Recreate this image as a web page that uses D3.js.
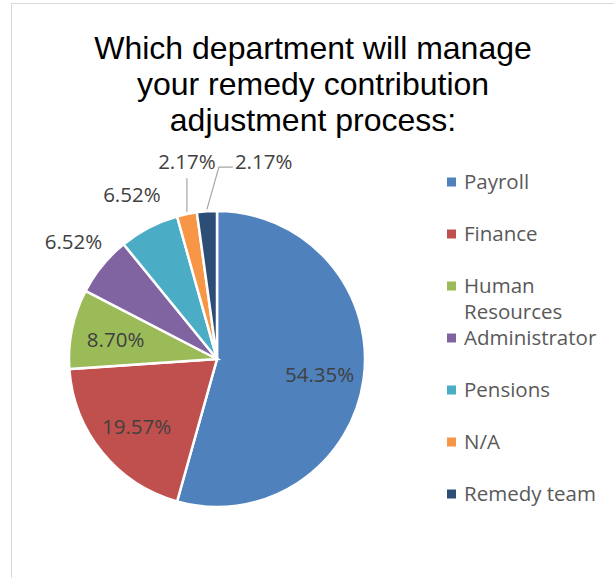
<!DOCTYPE html>
<html>
<head>
<meta charset="utf-8">
<title>Remedy contribution adjustment</title>
<script src="https://d3js.org/d3.v7.min.js"></script>
<style>
  body { margin: 0; background: #fff; }
  .title { font-family: "Liberation Sans", Arial, sans-serif; font-size: 32px; fill: #000; text-anchor: middle; }
  .lbl { font-family: "Open Sans", sans-serif; font-size: 20.5px; fill: #404040; }
  .legend text { font-family: "Open Sans", sans-serif; font-size: 20.5px; fill: #595959; }
</style>
</head>
<body>
<script>

var categories = ["Payroll", "Finance", "Human Resources", "Administrator", "Pensions", "N/A", "Remedy team"];
var counts = [25, 9, 4, 3, 3, 1, 1];
var percentLabels = ["54.35%", "19.57%", "8.70%", "6.52%", "6.52%", "2.17%", "2.17%"];
var colors = ["#4f81bd", "#c0504d", "#9bbb59", "#8064a2", "#4bacc6", "#f79646", "#2c4d75"];
var titleLines = ["Which department will manage", "your remedy contribution", "adjustment process:"];

var width = 614, height = 578,
    cx = 217, cy = 359, radius = 148;

var svg = d3.select("body").append("svg")
    .attr("width", width)
    .attr("height", height);

// chart frame (runs off the right and bottom edges)
svg.append("rect")
    .attr("x", 11.5).attr("y", 3.5)
    .attr("width", width + 20).attr("height", height + 20)
    .attr("fill", "none")
    .attr("stroke", "#d9d9d9");

svg.selectAll(".title")
    .data(titleLines)
  .enter().append("text")
    .attr("class", "title")
    .attr("x", 313)
    .attr("y", function(d, i) { return 59 + i * 36; })
    .text(function(d) { return d; });

var data = categories.map(function(c, i) {
  return { name: c, value: counts[i], label: percentLabels[i], color: colors[i] };
});

var pie = d3.pie()
    .sort(null)
    .value(function(d) { return d.value; });

var arc = d3.arc().innerRadius(0).outerRadius(radius);
var inArc = d3.arc().innerRadius(radius * 0.7).outerRadius(radius * 0.7);
var outArc = d3.arc().innerRadius(radius * 1.25).outerRadius(radius * 1.25);
var edgeArc = d3.arc().innerRadius(radius).outerRadius(radius);

var arcs = pie(data);

var g = svg.append("g")
    .attr("transform", "translate(" + cx + "," + cy + ")");

g.selectAll("path")
    .data(arcs)
  .enter().append("path")
    .attr("d", arc)
    .attr("fill", function(d) { return d.data.color; })
    .attr("stroke", "#fff")
    .attr("stroke-width", 2.5);

// labels: big slices inside, medium slices just outside, tiny ones with leader lines
var labelY = -radius * 1.33;

arcs.forEach(function(d, i) {
  var t = g.append("text")
      .attr("class", "lbl")
      .attr("dy", "0.35em")
      .text(d.data.label);
  var share = d.value / d3.sum(counts);
  if (share > 0.08) {
    var p = inArc.centroid(d);
    t.attr("x", p[0]).attr("y", p[1] + 2).attr("text-anchor", "middle");
  } else if (share > 0.05) {
    var p = outArc.centroid(d);
    t.attr("x", p[0]).attr("y", p[1]).attr("text-anchor", "middle");
  } else {
    var e = edgeArc.centroid(d);
    var pts;
    if (i === 5) {
      t.attr("x", e[0]).attr("y", labelY).attr("text-anchor", "middle");
      pts = [[e[0], e[1] - 2], [e[0], labelY + 16]];
    } else {
      t.attr("x", e[0] + 28).attr("y", labelY).attr("text-anchor", "start");
      pts = [[e[0], e[1] - 2], [e[0] + 12, labelY + 5], [e[0] + 26, labelY + 5]];
    }
    g.append("path")
        .attr("d", d3.line()(pts))
        .attr("fill", "none")
        .attr("stroke", "#a6a6a6")
        .attr("stroke-width", 1.2);
  }
});

// legend
var legend = svg.append("g")
    .attr("class", "legend")
    .attr("transform", "translate(447,182)");

var item = legend.selectAll("g")
    .data(data)
  .enter().append("g")
    .attr("transform", function(d, i) { return "translate(0," + i * 52 + ")"; });

item.append("rect")
    .attr("x", 0).attr("y", -4.5)
    .attr("width", 9).attr("height", 9)
    .attr("fill", function(d) { return d.color; });

item.append("text")
    .each(function(d) {
      var words = d.name === "Human Resources" ? ["Human", "Resources"] : [d.name];
      var txt = d3.select(this);
      words.forEach(function(w, k) {
        txt.append("tspan")
            .attr("x", 17)
            .attr("dy", k === 0 ? "0.35em" : 26)
            .text(w);
      });
    });

</script>
</body>
</html>
